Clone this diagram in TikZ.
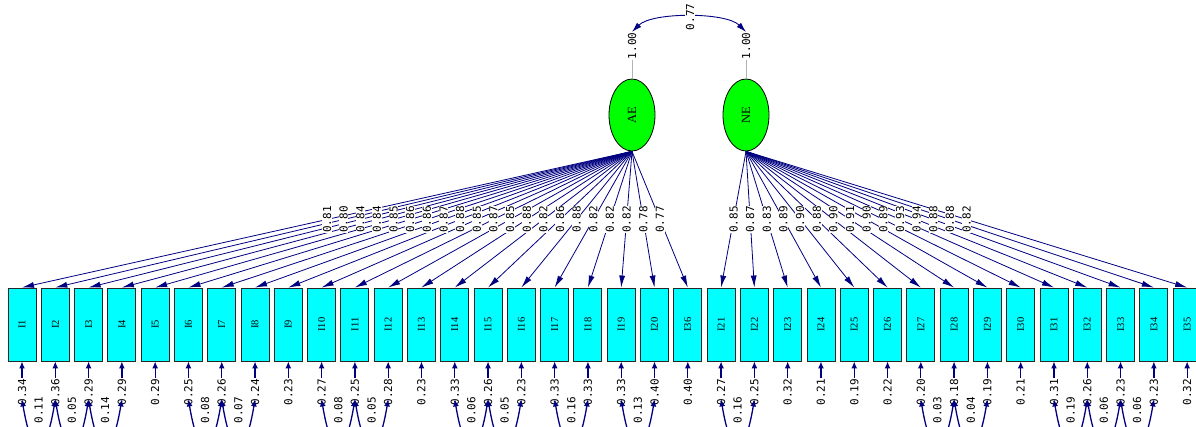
\documentclass[tikz,border=0pt]{standalone}
\usepackage{graphicx}
\usepackage{fontspec}
\newfontfamily\numfont{DejaVu Sans Mono}
\newfontfamily\namefont{Liberation Serif}
\usetikzlibrary{shapes.geometric,arrows.meta}
\definecolor{navy}{RGB}{0,0,128}
\definecolor{boxcyan}{RGB}{0,255,255}
\definecolor{ovalgreen}{RGB}{0,255,0}

\begin{document}
\begin{tikzpicture}[
        x=1pt, y=-1pt, % ось y вниз, как в пикселях
        item/.style = {draw=black!85, fill=boxcyan, line width=0.9pt, minimum width=28pt, minimum height=73pt, inner sep=0pt, font=\namefont\fontsize{10.5}{10.5}\selectfont}, % Наблюдаемые переменные
        factor/.style = {ellipse, draw=black, fill=ovalgreen, line width=0.8pt, minimum width=46pt, minimum height=72pt, inner sep=0pt, font=\namefont\fontsize{12.5}{12.5}\selectfont}, % Латентные факторы
        lbl/.style = {rotate=90, fill=white, inner sep=0.6pt, font=\numfont\fontsize{11}{11}\selectfont}, % Подписи коэффициентов
        errlbl/.style = {rotate=90, inner sep=1pt, font=\numfont\fontsize{11}{11}\selectfont},
        load/.style = {draw=navy, line width=0.8pt, -{Latex[length=12pt, width=6pt]}},
        err/.style = {draw=navy, line width=1.3pt, -{Latex[length=7pt, width=6pt]}},
        cov/.style = {draw=navy, line width=1.3pt, {Latex[length=7pt, width=6pt]}-{Latex[length=7pt, width=6pt]}},
        var/.style = {draw=black!30, line width=0.9pt},
    ]
    \useasboundingbox (0,0) rectangle (1196,427);
    \clip (0,0) rectangle (1196,427);

    % индикаторы и их ошибки
    \foreach \n/\k/\v in {I1/0/0.34, I2/1/0.36, I3/2/0.29, I4/3/0.29, I5/4/0.29, I6/5/0.25, I7/6/0.26, I8/7/0.24, I9/8/0.23, I10/9/0.27, I11/10/0.25, I12/11/0.28, I13/12/0.23, I14/13/0.33, I15/14/0.26, I16/15/0.23, I17/16/0.33, I18/17/0.33, I19/18/0.33, I20/19/0.40, I36/20/0.40, I21/21/0.27, I22/22/0.25, I23/23/0.32, I24/24/0.21, I25/25/0.19, I26/26/0.22, I27/27/0.20, I28/28/0.18, I29/29/0.19, I30/30/0.21, I31/31/0.31, I32/32/0.26, I33/33/0.23, I34/34/0.23, I35/35/0.32} {
        \node[item] (\n) at ({22+33.29*\k},324.5) {\rotatebox{90}{\n}};
        \node[errlbl] (e\n) at ({22+33.29*\k},392) {\v};
        \draw[err] (e\n.east) -- (\n.south);
    }

    % ковариации ошибок
    \foreach \a/\b/\k/\v in {I1/I2/0/0.11, I2/I3/1/0.05, I3/I4/2/0.14, I6/I7/5/0.08, I7/I8/6/0.07, I10/I11/9/0.08, I11/I12/10/0.05, I14/I15/13/0.06, I15/I16/14/0.05, I17/I18/16/0.16, I19/I20/18/0.13, I21/I22/21/0.16, I27/I28/27/0.03, I28/I29/28/0.04, I31/I32/31/0.19, I32/I33/32/0.06, I33/I34/33/0.06} {
        \draw[cov] ([yshift=7pt]e\a.west) .. controls +(10,60) and +(-10,60) .. ([yshift=7pt]e\b.west);
        \node[errlbl] (c\a) at ({22+33.29*(\k+0.5)},410) {\v};
    }

    % факторы
    \node[factor] (AE) at (632,115) {\rotatebox{90}{AE}};
    \node[factor] (NE) at (746,115) {\rotatebox{90}{NE}};
    \node[lbl] (vAE) at (632,46) {1.00};
    \node[lbl] (vNE) at (746,46) {1.00};
    \draw[var] (vAE.west) -- (AE.north);
    \draw[var] (vNE.west) -- (NE.north);
    \draw[cov, line width=0.9pt, {Latex[length=10pt, width=6pt]}-{Latex[length=10pt, width=6pt]}] (vAE.east) .. controls +(20,-20) and +(-20,-20) .. (vNE.east);
    \node[lbl] (r) at (690,17) {0.77};

    % нагрузки
    \foreach \f/\n/\v in {AE/I1/0.81, AE/I2/0.80, AE/I3/0.84, AE/I4/0.84, AE/I5/0.85, AE/I6/0.86, AE/I7/0.86, AE/I8/0.87, AE/I9/0.88, AE/I10/0.85, AE/I11/0.87, AE/I12/0.85, AE/I13/0.88, AE/I14/0.82, AE/I15/0.86, AE/I16/0.88, AE/I17/0.82, AE/I18/0.82, AE/I19/0.82, AE/I20/0.78, AE/I36/0.77, NE/I21/0.85, NE/I22/0.87, NE/I23/0.83, NE/I24/0.89, NE/I25/0.90, NE/I26/0.88, NE/I27/0.90, NE/I28/0.91, NE/I29/0.90, NE/I30/0.89, NE/I31/0.93, NE/I32/0.94, NE/I33/0.88, NE/I34/0.88, NE/I35/0.82}
        \draw[load] (\f.south) -- (\n.north);
    \foreach \f/\n/\v in {AE/I1/0.81, AE/I2/0.80, AE/I3/0.84, AE/I4/0.84, AE/I5/0.85, AE/I6/0.86, AE/I7/0.86, AE/I8/0.87, AE/I9/0.88, AE/I10/0.85, AE/I11/0.87, AE/I12/0.85, AE/I13/0.88, AE/I14/0.82, AE/I15/0.86, AE/I16/0.88, AE/I17/0.82, AE/I18/0.82, AE/I19/0.82, AE/I20/0.78, AE/I36/0.77, NE/I21/0.85, NE/I22/0.87, NE/I23/0.83, NE/I24/0.89, NE/I25/0.90, NE/I26/0.88, NE/I27/0.90, NE/I28/0.91, NE/I29/0.90, NE/I30/0.89, NE/I31/0.93, NE/I32/0.94, NE/I33/0.88, NE/I34/0.88, NE/I35/0.82}
        \path (\f.south) -- node[lbl] (l\n) {\v} (\n.north);
\end{tikzpicture}
\end{document}
